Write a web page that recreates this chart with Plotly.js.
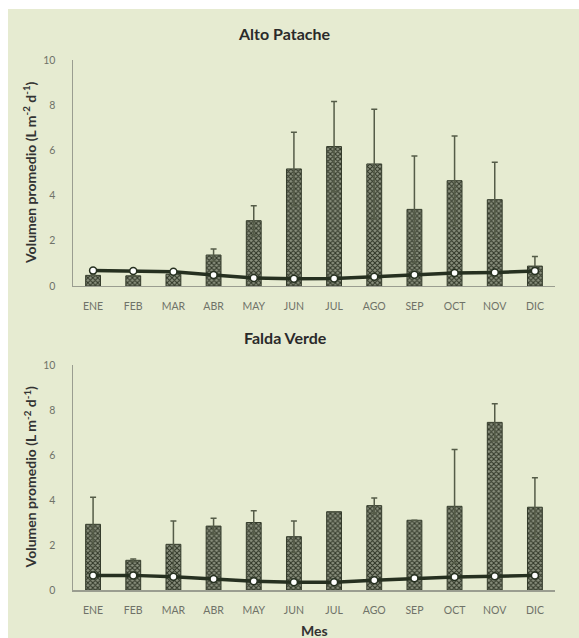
<!DOCTYPE html>
<html>
<head>
<meta charset="utf-8">
<script src="https://cdn.plot.ly/plotly-3.0.1.min.js"></script>
<style>
html,body{margin:0;padding:0;background:#ffffff;}
#chart{position:absolute;left:8px;top:9px;width:571px;height:629px;}
</style>
</head>
<body>
<div id="chart"></div>
<script>
const meses = ["ENE","FEB","MAR","ABR","MAY","JUN","JUL","AGO","SEP","OCT","NOV","DIC"];

// Alto Patache
const altoBar = [0.47, 0.45, 0.52, 1.37, 2.89, 5.18, 6.17, 5.40, 3.39, 4.66, 3.82, 0.88];
const altoErr = [0.0, 0.0, 0.0, 0.27, 0.66, 1.62, 1.99, 2.42, 2.36, 1.98, 1.65, 0.42];
const altoLine = [0.68, 0.66, 0.63, 0.49, 0.35, 0.32, 0.33, 0.41, 0.50, 0.57, 0.60, 0.66];

// Falda Verde
const faldaBar = [2.92, 1.32, 2.03, 2.84, 3.00, 2.37, 3.48, 3.75, 3.10, 3.72, 7.45, 3.68];
const faldaErr = [1.20, 0.06, 1.04, 0.35, 0.52, 0.70, 0.0, 0.34, 0.0, 2.53, 0.83, 1.31];
const faldaLine = [0.65, 0.65, 0.59, 0.49, 0.39, 0.34, 0.34, 0.43, 0.52, 0.58, 0.61, 0.65];

const dark = '#263020';
const barStyle = {
  color: '#8c9280',
  line: {color: '#353c2c', width: 1},
  pattern: {shape: 'x', fgcolor: '#2f3526', bgcolor: '#8c9280', size: 3.5, solidity: 0.5}
};
function barTrace(y, err, xa, ya) {
  return {type: 'bar', x: meses, y: y, xaxis: xa, yaxis: ya, width: 0.37,
    marker: barStyle,
    error_y: {type: 'data', array: err, visible: true, symmetric: true, color: '#555c48', thickness: 1.5, width: 3},
    hoverinfo: 'skip'};
}
function lineTrace(y, xa, ya) {
  return {type: 'scatter', mode: 'lines+markers', x: meses, y: y, xaxis: xa, yaxis: ya,
    line: {color: dark, width: 3.5},
    marker: {symbol: 'circle', size: 7, color: '#ffffff', line: {color: dark, width: 1.5}},
    hoverinfo: 'skip'};
}

const data = [
  barTrace(altoBar, altoErr, 'x', 'y'),
  lineTrace(altoLine, 'x', 'y'),
  barTrace(faldaBar, faldaErr, 'x2', 'y2'),
  lineTrace(faldaLine, 'x2', 'y2')
];

const tickFont = {family: 'Lato, "Open Sans", sans-serif', size: 10.5, color: '#6f7268'};
function xAxis(anchor) {
  return {anchor: anchor, domain: [0, 1], type: 'category', range: [-0.5, 11.5],
    showline: true, linecolor: '#9a9d90', linewidth: 1.5, showgrid: false, zeroline: false,
    ticks: '', tickfont: tickFont, ticklabelstandoff: 10, fixedrange: true};
}
function yAxis(anchor, dom) {
  return {anchor: anchor, domain: dom, range: [0, 10], tickvals: [0, 2, 4, 6, 8, 10],
    showline: true, linecolor: '#9a9d90', linewidth: 1.5, showgrid: false, zeroline: false,
    ticks: '', tickfont: tickFont, ticklabelstandoff: 14, fixedrange: true};
}
const titleFont = {family: 'Lato, "Open Sans", sans-serif', size: 16, color: '#2a2a2a', weight: 'bold'};
const axTitleFont = {family: 'Lato, "Open Sans", sans-serif', size: 14, color: '#333333', weight: 'bold'};
const ytitle = 'Volumen promedio (L m<sup>-2</sup> d<sup>-1</sup>)';

const layout = {
  width: 571, height: 629,
  margin: {l: 65, r: 24, t: 51, b: 48},
  paper_bgcolor: '#e6ebd1', plot_bgcolor: '#e6ebd1',
  showlegend: false, barmode: 'overlay',
  xaxis: xAxis('y'), yaxis: yAxis('x', [0.5736, 1]),
  xaxis2: xAxis('y2'), yaxis2: yAxis('x2', [0, 0.4245]),
  annotations: [
    {text: '<b>Alto Patache</b>', xref: 'paper', yref: 'paper', x: 0.438, y: 1, yshift: 27, xanchor: 'center', yanchor: 'middle', showarrow: false, font: titleFont},
    {text: '<b>Falda Verde</b>', xref: 'paper', yref: 'paper', x: 0.44, y: 0.4245, yshift: 28, xanchor: 'center', yanchor: 'middle', showarrow: false, font: titleFont},
    {text: '<b>' + ytitle + '</b>', xref: 'paper', yref: 'paper', x: 0, xshift: -43, y: 0.7868, textangle: -90, xanchor: 'center', yanchor: 'middle', showarrow: false, font: axTitleFont},
    {text: '<b>' + ytitle + '</b>', xref: 'paper', yref: 'paper', x: 0, xshift: -43, y: 0.2123, textangle: -90, xanchor: 'center', yanchor: 'middle', showarrow: false, font: axTitleFont},
    {text: '<b>Mes</b>', xref: 'paper', yref: 'paper', x: 0.5, y: 0, yshift: -40, xanchor: 'center', yanchor: 'middle', showarrow: false, font: axTitleFont}
  ]
};

Plotly.newPlot('chart', data, layout, {staticPlot: true, displayModeBar: false});
</script>
</body>
</html>
